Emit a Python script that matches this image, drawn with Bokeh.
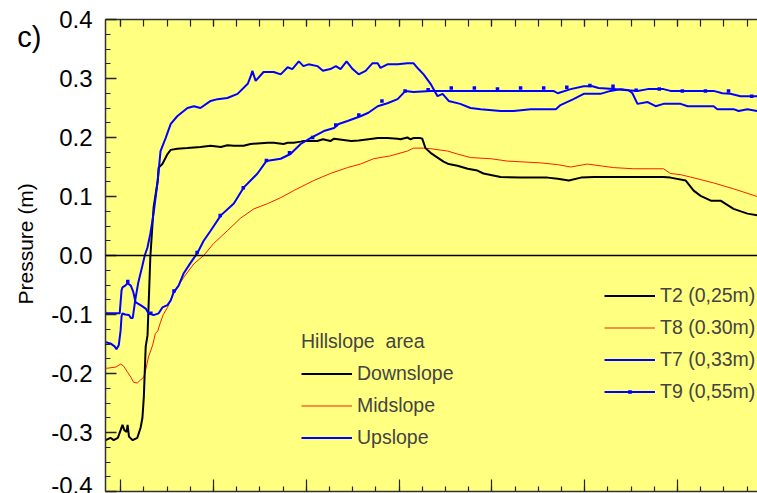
from bokeh.embed import file_html
from bokeh.models import (FixedTicker, Legend, LegendItem, LinearAxis,
                          PrintfTickFormatter, Range1d, Span)
from bokeh.plotting import figure
from bokeh.resources import INLINE

# ---------------------------------------------------------------------------
# Tensiometer records: (elapsed time [h], pressure head [m])
# ---------------------------------------------------------------------------
T2 = [  # downslope, 0.25 m
    (-1.6, -0.313), (-1.1, -0.309), (-0.75, -0.313), (-0.3, -0.309), (0.0, -0.296),
    (0.2, -0.287), (0.4, -0.296), (0.65, -0.299), (0.75, -0.287), (0.9, -0.307),
    (1.3, -0.313), (1.8, -0.309), (2.15, -0.292), (2.35, -0.275), (2.5, -0.240),
    (2.7, -0.155), (2.9, -0.135), (3.2, -0.003), (3.55, 0.081), (4.0, 0.127),
    (4.1, 0.149), (4.3, 0.152), (4.5, 0.155), (5.05, 0.172), (5.4, 0.179),
    (6.1, 0.181), (7.2, 0.182), (8.6, 0.184), (9.7, 0.186), (10.8, 0.184),
    (11.5, 0.187), (12.2, 0.186), (13.25, 0.186), (14.0, 0.189), (15.85, 0.191),
    (16.5, 0.191), (17.55, 0.189), (18.0, 0.191), (18.65, 0.191), (19.4, 0.193),
    (19.7, 0.194), (21.2, 0.194), (21.8, 0.197), (22.6, 0.194), (23.0, 0.198),
    (24.85, 0.194), (25.65, 0.195), (27.15, 0.198), (27.7, 0.199), (28.75, 0.199),
    (29.85, 0.198), (30.15, 0.197), (30.9, 0.200), (31.25, 0.197), (31.55, 0.199),
    (32.3, 0.199), (32.5, 0.198), (32.85, 0.182), (33.4, 0.174), (34.15, 0.166),
    (34.8, 0.159), (35.35, 0.155), (36.3, 0.152), (37.4, 0.147), (38.45, 0.144),
    (39.1, 0.139), (40.95, 0.133), (43.1, 0.132), (46.0, 0.132), (47.1, 0.130),
    (48.3, 0.127), (49.6, 0.132), (51.0, 0.133), (53.1, 0.133), (58.5, 0.133),
    (59.25, 0.132), (60.9, 0.127), (61.75, 0.110), (62.5, 0.101), (63.6, 0.093),
    (64.65, 0.093), (66.05, 0.079), (67.55, 0.071), (68.6, 0.068),
]

T8 = [  # midslope, 0.30 m
    (-1.6, -0.191), (-1.4, -0.191), (-0.5, -0.189), (0.0, -0.184), (0.3, -0.187),
    (0.75, -0.198), (1.1, -0.206), (1.4, -0.215), (1.8, -0.216), (2.15, -0.211),
    (2.5, -0.206), (2.7, -0.194), (3.0, -0.172), (3.45, -0.152), (3.75, -0.132),
    (4.0, -0.128), (4.3, -0.113), (4.6, -0.100), (5.05, -0.088), (5.7, -0.064),
    (6.8, -0.037), (7.9, -0.014), (8.95, 0.000), (10.0, 0.020), (11.5, 0.042),
    (12.9, 0.063), (14.35, 0.079), (15.85, 0.088), (17.25, 0.098), (18.65, 0.110),
    (20.8, 0.127), (22.6, 0.139), (24.45, 0.149), (25.85, 0.155), (27.25, 0.164),
    (29.1, 0.169), (30.9, 0.177), (31.55, 0.182), (32.65, 0.182), (33.4, 0.181),
    (35.25, 0.177), (36.3, 0.172), (37.7, 0.166), (39.9, 0.164), (41.7, 0.160),
    (45.25, 0.157), (47.1, 0.154), (48.5, 0.150), (50.3, 0.155), (53.1, 0.149),
    (55.3, 0.147), (58.5, 0.147), (59.25, 0.139), (60.35, 0.137), (61.4, 0.133),
    (63.9, 0.123), (66.05, 0.113), (68.6, 0.100),
]

T7 = [  # upslope, 0.33 m
    (-1.6, -0.147), (-1.1, -0.149), (-0.65, -0.154), (-0.45, -0.159), (-0.2, -0.152),
    (0.0, -0.127), (0.1, -0.103), (0.2, -0.098), (0.5, -0.100), (0.9, -0.101),
    (1.1, -0.106), (1.3, -0.106), (1.6, -0.073), (1.9, -0.046), (2.35, -0.017),
    (2.6, 0.000), (2.9, 0.014), (3.2, 0.037), (3.55, 0.071), (4.0, 0.127),
    (4.3, 0.177), (4.85, 0.199), (5.4, 0.223), (6.1, 0.236), (7.2, 0.250),
    (7.9, 0.253), (8.6, 0.250), (9.7, 0.262), (10.45, 0.265), (11.5, 0.267),
    (12.6, 0.274), (13.7, 0.291), (14.0, 0.303), (14.2, 0.313), (14.55, 0.296),
    (15.4, 0.311), (16.5, 0.311), (17.25, 0.307), (18.0, 0.319), (18.5, 0.316),
    (19.2, 0.329), (19.7, 0.321), (20.25, 0.324), (21.2, 0.321), (21.8, 0.313),
    (22.6, 0.316), (23.2, 0.321), (23.7, 0.316), (24.35, 0.329), (25.0, 0.316),
    (25.65, 0.307), (26.4, 0.313), (27.15, 0.326), (27.7, 0.326), (28.0, 0.318),
    (28.75, 0.324), (29.85, 0.324), (30.9, 0.326), (31.55, 0.326), (32.1, 0.316),
    (32.65, 0.307), (33.4, 0.291), (34.15, 0.270), (34.7, 0.274), (35.35, 0.262),
    (36.6, 0.257), (37.7, 0.250), (38.8, 0.248), (40.95, 0.245), (42.35, 0.245),
    (44.2, 0.248), (45.25, 0.248), (46.9, 0.248), (47.4, 0.255), (48.8, 0.265),
    (49.9, 0.274), (51.7, 0.274), (52.8, 0.279), (53.9, 0.282), (54.75, 0.280),
    (55.15, 0.275), (55.7, 0.257), (56.8, 0.260), (57.65, 0.253), (58.5, 0.257),
    (60.35, 0.257), (61.1, 0.253), (63.9, 0.253), (64.3, 0.248), (66.05, 0.248),
    (66.6, 0.245), (67.55, 0.248), (68.6, 0.245),
]

T9 = [  # upslope, 0.55 m
    (-1.6, -0.098), (-1.1, -0.098), (-0.5, -0.098), (-0.1, -0.098), (0.1, -0.059),
    (0.2, -0.054), (0.5, -0.051), (0.75, -0.047), (1.1, -0.051), (1.3, -0.059),
    (1.4, -0.064), (1.6, -0.079), (2.15, -0.084), (2.7, -0.090), (3.0, -0.098),
    (3.55, -0.101), (4.1, -0.098), (4.5, -0.088), (5.05, -0.084), (5.4, -0.076),
    (5.7, -0.063), (6.25, -0.051), (6.8, -0.030), (7.55, -0.012), (8.3, 0.005),
    (8.95, 0.025), (9.7, 0.042), (10.8, 0.068), (12.2, 0.088), (13.25, 0.115),
    (14.75, 0.139), (15.7, 0.160), (17.25, 0.164), (18.3, 0.172), (19.4, 0.189),
    (20.45, 0.199), (21.9, 0.211), (23.0, 0.216), (23.5, 0.223), (24.45, 0.228),
    (25.85, 0.236), (26.7, 0.242), (27.7, 0.253), (28.75, 0.258), (29.85, 0.265),
    (30.7, 0.279), (31.55, 0.277), (33.4, 0.279), (46.65, 0.279), (47.1, 0.275),
    (48.5, 0.282), (49.9, 0.287), (50.85, 0.287), (51.5, 0.284), (53.1, 0.282),
    (54.6, 0.280), (55.7, 0.279), (56.8, 0.282), (58.5, 0.282), (59.25, 0.279),
    (63.9, 0.279), (64.85, 0.275), (65.7, 0.274), (66.8, 0.270), (68.6, 0.270),
]

# logged samples of T9 that carry a symbol
T9_MARKS = [
    (-1.72, -0.098), (0.77, -0.044), (3.26, -0.098), (5.75, -0.060), (8.24, 0.005),
    (10.73, 0.068), (13.22, 0.115), (15.71, 0.161), (18.2, 0.174), (20.69, 0.200),
    (23.18, 0.221), (25.67, 0.238), (28.16, 0.262), (30.65, 0.279), (33.14, 0.281),
    (35.63, 0.284), (38.12, 0.284), (40.61, 0.282), (43.1, 0.284), (45.59, 0.284),
    (48.08, 0.285), (50.57, 0.288), (53.06, 0.287), (55.55, 0.280), (58.04, 0.282),
    (60.53, 0.279), (63.02, 0.279), (65.51, 0.279), (68.0, 0.270),
]

Y_MAJOR = [-0.4, -0.3, -0.2, -0.1, 0.0, 0.1, 0.2, 0.3, 0.4]
X_MAJOR = [0, 10, 20, 30, 40, 50, 60]
PANEL_TAG = "c)"
Y_TITLE = "Pressure (m)"

FONT = "Liberation Sans"
BG = "#ffff80"
BLUE = "#0000ff"
RED = "#ff1a00"
BLACK = "#000000"


def cols(pairs):
    xs, ys = zip(*pairs)
    return list(xs), list(ys)


p = figure(
    width=757, height=493,
    x_range=Range1d(-1.63, 68.63), y_range=Range1d(-0.4, 0.4),
    output_backend="svg", toolbar_location=None,
    min_border_left=105, min_border_right=0, min_border_top=19, min_border_bottom=2,
    x_axis_location=None, y_axis_location=None,
)
p.background_fill_color = BG
p.border_fill_color = "white"
p.outline_line_color = None
p.xgrid.visible = False
p.ygrid.visible = False

x_minor = [-2.5 + 2.5 * i for i in range(30)]
y_minor = [-0.4 + 0.025 * i for i in range(33)]

# pressure axis with inward ticks
yaxis = LinearAxis(
    ticker=FixedTicker(ticks=Y_MAJOR, minor_ticks=y_minor),
    formatter=PrintfTickFormatter(format="%.1f"),
    axis_line_color="#333333", axis_line_width=1.5,
    major_tick_in=11, major_tick_out=0, minor_tick_in=5, minor_tick_out=0,
    major_tick_line_color="#222222", major_tick_line_width=1.5,
    minor_tick_line_color="#222222", minor_tick_line_width=1.2,
    major_label_standoff=13,
    major_label_text_font=FONT, major_label_text_font_size="24px",
    major_label_text_color="black",
)
p.add_layout(yaxis, "left")

# outer, line-less axis carrying the panel tag and the axis title
TAG_AT = 0.37
tag_axis = LinearAxis(
    ticker=FixedTicker(ticks=[TAG_AT], minor_ticks=[]),
    major_label_overrides={TAG_AT: PANEL_TAG},
    axis_line_color=None, major_tick_line_color=None, minor_tick_line_color=None,
    major_tick_in=0, major_tick_out=0, minor_tick_in=0, minor_tick_out=0,
    major_label_standoff=7,
    major_label_text_font=FONT, major_label_text_font_size="29px",
    major_label_text_color="black",
    axis_label="\u00a0" * 4 + Y_TITLE, axis_label_standoff=-23,
    axis_label_text_font=FONT, axis_label_text_font_size="21px",
    axis_label_text_font_style="normal", axis_label_text_color="black",
)
p.add_layout(tag_axis, "left")

# time axes (bottom and top), ticks only
for place in ("below", "above"):
    ax = LinearAxis(
        ticker=FixedTicker(ticks=X_MAJOR, minor_ticks=x_minor),
        major_label_overrides={t: "" for t in X_MAJOR},
        axis_line_color="#333333", axis_line_width=1.5,
        major_tick_in=12 if place == "below" else 7, major_tick_out=0,
        minor_tick_in=5 if place == "below" else 7, minor_tick_out=0,
        major_tick_line_color="#222222", major_tick_line_width=1.2,
        minor_tick_line_color="#222222", minor_tick_line_width=1.2,
        major_label_standoff=0, major_label_text_font_size="0px",
    )
    p.add_layout(ax, place)

p.add_layout(Span(location=0, dimension="width", line_color="black", line_width=1.5))

x, y = cols(T8)
r_t8 = p.line(x, y, line_color=RED, line_width=1)
x, y = cols(T2)
r_t2 = p.line(x, y, line_color=BLACK, line_width=2)
x, y = cols(T7)
r_t7 = p.line(x, y, line_color=BLUE, line_width=2)
x, y = cols(T9)
r_t9 = p.line(x, y, line_color=BLUE, line_width=2)
x, y = cols(T9_MARKS)
r_t9m = p.scatter(x, y, marker="square", size=3.5, fill_color=BLUE, line_color=None)

legend_style = dict(
    glyph_width=51, glyph_height=9, label_standoff=5, spacing=9,
    padding=0, margin=0,
    background_fill_alpha=0, border_line_alpha=0,
    label_text_font=FONT, label_text_font_size="19.5px",
)

area_legend = Legend(
    items=[
        LegendItem(label="Downslope", renderers=[r_t2]),
        LegendItem(label="Midslope", renderers=[r_t8]),
        LegendItem(label="Upslope", renderers=[r_t7]),
    ],
    title="Hillslope\u00a0 area", title_text_font=FONT, title_text_font_size="19.5px",
    title_text_font_style="normal", title_standoff=9,
    location=(196, 42), **legend_style,
)
sensor_legend = Legend(
    items=[
        LegendItem(label="T2 (0,25m)", renderers=[r_t2]),
        LegendItem(label="T8 (0.30m)", renderers=[r_t8]),
        LegendItem(label="T7 (0,33m)", renderers=[r_t7]),
        LegendItem(label="T9 (0,55m)", renderers=[r_t9, r_t9m]),
    ],
    location=(499, 88), **legend_style,
)
p.add_layout(area_legend)
p.add_layout(sensor_legend)

open("out.html", "w").write(file_html(p, INLINE))
